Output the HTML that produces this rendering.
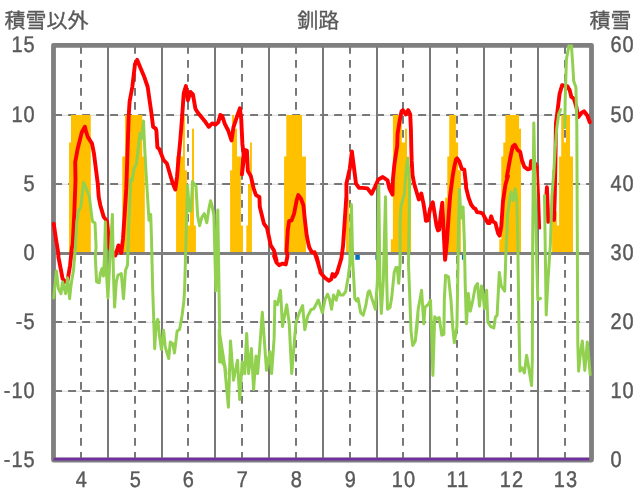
<!DOCTYPE html>
<html lang="ja"><head><meta charset="utf-8"><title>釧路</title>
<style>
html,body{margin:0;padding:0;background:#fff;}
body{width:636px;height:501px;overflow:hidden;position:relative;font-family:"Liberation Sans","Noto Sans CJK JP",sans-serif;}
svg{position:absolute;left:0;top:0;display:block;}
text{font-family:"Liberation Sans","Noto Sans CJK JP",sans-serif;font-size:21px;fill:#595959;stroke:#595959;stroke-width:0.35px;}
text.n{stroke-width:0.4px;letter-spacing:1px;text-rendering:geometricPrecision;}
</style></head><body>
<svg width="636" height="501" viewBox="0 0 636 501">
<rect x="0" y="0" width="636" height="501" fill="#fff"/>
<defs><clipPath id="pc"><rect x="50" y="44.6" width="545" height="420"/></clipPath></defs>
<g stroke-linecap="butt" fill="none">
<line x1="54" y1="115.3" x2="591" y2="115.3" stroke="#c0c0c0" stroke-width="0.6"/>
<line x1="54.15" y1="115" x2="591" y2="115" stroke="#787878" stroke-width="2" stroke-dasharray="7.9 6.1"/>
<line x1="54" y1="184.3" x2="591" y2="184.3" stroke="#c0c0c0" stroke-width="0.6"/>
<line x1="54.15" y1="184" x2="591" y2="184" stroke="#787878" stroke-width="2" stroke-dasharray="7.9 6.1"/>
<line x1="54" y1="322.3" x2="591" y2="322.3" stroke="#c0c0c0" stroke-width="0.6"/>
<line x1="54.15" y1="322" x2="591" y2="322" stroke="#787878" stroke-width="2" stroke-dasharray="7.9 6.1"/>
<line x1="54" y1="391.3" x2="591" y2="391.3" stroke="#c0c0c0" stroke-width="0.6"/>
<line x1="54.15" y1="391" x2="591" y2="391" stroke="#787878" stroke-width="2" stroke-dasharray="7.9 6.1"/>
<line x1="81" y1="45.9" x2="81" y2="460" stroke="#787878" stroke-width="2" stroke-dasharray="7.8 6.2"/>
<line x1="135" y1="45.9" x2="135" y2="460" stroke="#787878" stroke-width="2" stroke-dasharray="7.8 6.2"/>
<line x1="188" y1="45.9" x2="188" y2="460" stroke="#787878" stroke-width="2" stroke-dasharray="7.8 6.2"/>
<line x1="242" y1="45.9" x2="242" y2="460" stroke="#787878" stroke-width="2" stroke-dasharray="7.8 6.2"/>
<line x1="296" y1="45.9" x2="296" y2="460" stroke="#787878" stroke-width="2" stroke-dasharray="7.8 6.2"/>
<line x1="350" y1="45.9" x2="350" y2="460" stroke="#787878" stroke-width="2" stroke-dasharray="7.8 6.2"/>
<line x1="403" y1="45.9" x2="403" y2="460" stroke="#787878" stroke-width="2" stroke-dasharray="7.8 6.2"/>
<line x1="457" y1="45.9" x2="457" y2="460" stroke="#787878" stroke-width="2" stroke-dasharray="7.8 6.2"/>
<line x1="511" y1="45.9" x2="511" y2="460" stroke="#787878" stroke-width="2" stroke-dasharray="7.8 6.2"/>
<line x1="565" y1="45.9" x2="565" y2="460" stroke="#787878" stroke-width="2" stroke-dasharray="7.8 6.2"/>
<line x1="108" y1="45" x2="108" y2="460" stroke="#787878" stroke-width="2"/>
<line x1="162" y1="45" x2="162" y2="460" stroke="#787878" stroke-width="2"/>
<line x1="215" y1="45" x2="215" y2="460" stroke="#787878" stroke-width="2"/>
<line x1="269" y1="45" x2="269" y2="460" stroke="#787878" stroke-width="2"/>
<line x1="323" y1="45" x2="323" y2="460" stroke="#787878" stroke-width="2"/>
<line x1="377" y1="45" x2="377" y2="460" stroke="#787878" stroke-width="2"/>
<line x1="430" y1="45" x2="430" y2="460" stroke="#787878" stroke-width="2"/>
<line x1="484" y1="45" x2="484" y2="460" stroke="#787878" stroke-width="2"/>
<line x1="538" y1="45" x2="538" y2="460" stroke="#787878" stroke-width="2"/>
</g>
<path d="M69.00,253L69.00,142.60L71.00,142.60L71.00,115.00L90.80,115.00L90.80,253ZM122.30,253L122.30,156.40L125.00,156.40L125.00,115.00L142.30,115.00L142.30,156.40L144.80,156.40L144.80,253ZM176.10,253L176.10,156.40L183.00,156.40L183.00,115.00L184.90,115.00L184.90,170.20L186.90,170.20L186.90,225.40L188.70,225.40L188.70,225.40L190.00,225.40L190.00,211.60L192.00,211.60L192.00,128.80L194.00,128.80L194.00,225.40L195.90,225.40L195.90,253ZM230.10,253L230.10,170.20L232.10,170.20L232.10,115.00L234.00,115.00L234.00,128.80L237.05,128.80L237.05,156.40L240.90,156.40L240.90,225.40L243.00,225.40L243.00,253ZM246.30,253L246.30,225.40L248.00,225.40L248.00,184.00L250.00,184.00L250.00,142.60L251.90,142.60L251.90,253ZM284.10,253L284.10,156.40L286.30,156.40L286.30,115.00L302.00,115.00L302.00,156.40L305.90,156.40L305.90,253ZM346.10,253L346.10,197.80L348.90,197.80L348.90,253ZM390.90,253L390.90,239.20L392.90,239.20L392.90,115.00L401.80,115.00L401.80,142.60L405.00,142.60L405.00,128.80L407.00,128.80L407.00,156.40L409.20,156.40L409.20,170.20L411.10,170.20L411.10,253ZM445.10,253L445.10,197.80L447.30,197.80L447.30,156.40L449.20,156.40L449.20,115.00L455.90,115.00L455.90,142.60L458.10,142.60L458.10,170.20L460.90,170.20L460.90,253ZM499.30,253L499.30,239.20L501.30,239.20L501.30,156.40L503.30,156.40L503.30,142.60L505.40,142.60L505.40,115.00L519.10,115.00L519.10,128.80L521.00,128.80L521.00,253ZM552.10,253L552.10,170.20L553.30,170.20L553.30,211.60L556.90,211.60L556.90,225.40L559.10,225.40L559.10,156.40L561.20,156.40L561.20,115.00L563.90,115.00L563.90,142.60L566.00,142.60L566.00,115.00L570.00,115.00L570.00,156.40L573.00,156.40L573.00,253Z" fill="#ffc000"/>
<rect x="461.90" y="252.75" width="1.40" height="7.05" fill="#0070c0"/>
<rect x="355.30" y="252.75" width="4.50" height="7.05" fill="#0070c0"/>
<rect x="375.40" y="252.75" width="1.40" height="7.05" fill="#0070c0"/>
<line x1="53.75" y1="253.5" x2="591.5" y2="253.5" stroke="#7f7f7f" stroke-width="3"/>
<rect x="53.5" y="45.35" width="538" height="414.65" fill="none" stroke="#7f7f7f" stroke-width="4.8" stroke-linejoin="round"/>
<line x1="53.55" y1="459.15" x2="589.3" y2="459.15" stroke="#7030a0" stroke-width="2.9"/>
<polyline points="53.7,223.6 55.9,238.7 58.4,253.8 58.4,256.8 62.6,278.6 65.1,281.9 67.6,280.3 70.1,265.2 71.8,248.4 72.7,243.8 74.3,213.6 75.5,180.0 75.2,162.1 77.7,148.7 81.9,131.9 84.9,126.8 86.1,131.9 87.8,136.9 92.0,143.6 94.0,153.7 96.1,170.5 97.8,183.9 98.7,196.8 100.3,205.2 103.7,216.9 107.0,221.1 107.9,230.3 108.7,247.1 115.4,255.5 118.5,245.4 121.3,253.0 123.0,238.7 124.7,213.6 126.3,188.4 128.7,116.0 129.6,101.5 132.3,87.0 135.0,64.0 137.2,59.9 140.4,67.7 144.0,76.2 147.7,87.0 149.5,99.7 151.3,112.3 153.1,126.8 155.8,128.6 156.4,131.0 157.4,147.3 159.4,149.2 163.6,160.1 166.9,163.5 170.3,175.2 172.8,183.6 175.3,189.5 177.0,176.9 178.7,156.8 180.3,140.0 182.0,118.7 183.7,93.6 185.9,86.0 187.9,100.3 190.4,91.9 192.9,94.4 195.4,108.7 197.9,112.8 205.5,122.1 208.8,126.8 212.2,123.4 215.6,124.6 218.4,122.1 220.3,115.0 222.3,116.2 224.8,123.8 228.2,130.5 231.5,140.5 233.5,127.1 237.4,115.4 239.9,108.3 241.2,118.7 242.4,143.9 243.6,153.9 241.9,174.4 245.0,150.0 246.9,150.6 247.9,171.1 250.8,175.9 253.6,188.3 256.0,195.1 259.4,197.0 259.8,206.8 263.9,223.6 267.0,227.8 269.0,237.1 270.7,245.4 274.0,250.5 276.5,260.5 274.1,256.0 276.6,262.7 279.1,265.2 282.5,263.6 285.8,264.4 287.5,256.0 286.6,250.5 287.8,230.3 289.1,221.1 291.6,220.3 294.1,213.6 296.7,200.1 298.3,195.1 300.9,198.5 303.4,205.2 305.1,221.9 306.7,235.4 308.4,243.8 309.2,247.1 311.8,252.2 314.3,253.0 316.8,257.2 318.5,263.9 314.5,252.2 317.0,259.8 320.4,271.5 320.4,272.4 324.6,277.4 328.8,280.8 331.3,279.1 332.5,274.1 334.6,276.6 337.2,272.4 339.7,264.0 341.4,258.1 343.0,246.3 344.7,221.2 346.4,196.0 346.4,183.7 349.8,168.6 351.9,151.5 353.9,166.9 356.0,183.7 359.0,187.9 362.3,187.9 367.4,188.4 371.6,193.8 374.9,187.1 378.3,179.5 382.8,177.0 387.5,180.3 389.5,188.7 392.5,194.6 392.9,179.6 394.3,165.2 395.7,155.6 397.2,146.0 397.6,133.6 399.6,121.1 401.5,111.5 402.9,110.1 405.8,114.4 408.2,110.1 410.2,114.4 410.9,128.8 411.3,147.9 411.7,160.4 412.5,174.8 414.1,183.5 416.0,190.0 418.8,199.5 421.3,193.5 423.5,203.6 425.0,213.2 425.9,220.8 427.9,220.4 430.2,208.4 432.8,202.2 434.6,213.2 436.5,225.6 438.0,230.4 439.2,229.7 440.9,212.9 442.3,202.8 443.4,226.3 445.1,259.9 446.8,243.1 448.5,217.9 450.1,196.1 452.7,176.0 454.2,167.1 455.9,159.6 457.1,158.4 459.2,161.2 461.8,168.8 464.3,169.6 465.9,183.9 466.1,187.7 468.6,197.8 471.1,204.5 473.6,207.9 475.3,208.7 477.0,212.1 480.3,212.6 482.9,213.8 485.4,218.8 487.9,223.0 489.6,223.0 491.2,216.3 492.9,221.3 495.4,223.0 498.0,233.1 499.6,235.6 501.3,226.3 503.0,201.2 505.5,184.4 508.0,176.0 506.8,177.0 510.1,158.5 512.6,146.8 514.8,144.8 517.7,150.1 520.2,151.8 521.9,160.2 524.4,166.9 527.8,169.4 530.3,168.6 531.1,161.0 533.0,162.5 535.5,164.0" fill="none" stroke="#ff0000" stroke-width="3.9" stroke-linejoin="round" stroke-linecap="round"/>
<polyline points="545.9,205.0 546.9,187.3 547.6,205.0 548.2,221.9" fill="none" stroke="#ff0000" stroke-width="3.9" stroke-linejoin="round" stroke-linecap="round"/>
<polyline points="554.0,220.0 554.8,196.0 555.6,150.0 555.9,123.9 558.0,107.1 559.6,93.7 562.1,85.3 567.2,86.1 569.7,90.3 571.4,97.0 573.9,98.7 576.4,107.1 578.1,117.2 581.4,113.0 584.0,111.3 587.3,115.5 589.8,122.2" fill="none" stroke="#ff0000" stroke-width="3.9" stroke-linejoin="round" stroke-linecap="round"/>
<polyline points="537.2,166.0 538.7,196.0 539.8,228.2" fill="none" stroke="#ff0000" stroke-width="2.6" stroke-linejoin="round" stroke-linecap="round"/>
<polyline points="53.7,297.9 56.4,271.0 58.4,288.7 60.9,293.7 62.6,281.9 64.3,288.7 65.6,293.7 67.6,277.8 69.6,298.7 71.0,285.3 73.5,270.2 75.2,250.1 76.8,221.9 78.5,210.2 80.7,207.7 83.6,182.5 86.1,188.4 89.4,196.8 92.0,218.6 92.8,221.9 95.0,222.8 96.1,247.1 95.3,256.8 96.6,281.9 99.2,282.8 100.3,273.6 102.0,268.5 103.4,276.1 104.5,256.8 105.4,221.9 106.5,273.6 107.9,297.9 109.6,265.2 112.4,214.4 113.4,273.6 114.6,307.1 116.3,281.9 118.0,275.2 121.3,273.6 123.5,298.7 125.5,270.2 127.5,265.2 128.9,221.9 130.5,185.0 130.5,178.9 132.2,180.5 133.9,168.8 136.4,163.8 138.1,150.3 139.8,133.6 141.4,138.6 143.5,121.0 144.8,150.3 146.5,180.0 149.0,220.3 150.7,214.4 151.5,238.7 152.7,290.0 153.6,315.2 154.7,348.7 156.1,323.6 157.8,319.4 159.4,335.3 161.4,349.6 163.6,330.3 165.3,347.1 168.7,358.5 170.3,342.0 172.8,343.7 174.5,352.9 177.1,331.1 179.6,329.4 182.1,315.2 183.8,301.7 184.6,290.0 187.5,185.5 189.5,211.0 191.0,211.0 192.5,181.6 196.0,186.4 197.6,215.2 199.6,225.7 201.9,217.1 204.3,213.7 206.8,222.8 209.1,207.5 210.6,200.8 212.0,205.6 213.9,215.2 215.8,291.0 217.8,210.0 219.8,340.3 220.7,362.1 222.3,360.5 224.9,365.5 226.0,373.9 219.1,330.0 219.6,361.9 221.7,361.0 224.6,366.1 228.4,407.2 230.5,340.9 233.5,380.3 237.5,360.2 239.7,399.6 242.2,361.9 244.7,373.6 246.7,333.4 248.6,373.6 251.4,348.5 253.6,389.6 256.0,356.0 257.6,373.6 259.8,346.8 262.3,312.2 266.5,370.3 269.9,351.8 271.6,373.6 274.1,338.4 274.9,301.3 277.4,304.7 280.5,290.4 282.5,326.5 286.7,304.7 289.2,323.1 291.7,373.6 295.9,323.1 299.2,313.1 302.6,305.5 304.8,329.8 307.6,316.4 311.0,309.7 313.5,308.9 316.0,304.7 318.0,300.5 314.5,307.6 318.4,300.1 322.4,312.7 325.1,299.2 327.6,294.2 329.6,299.2 331.6,309.3 333.5,295.0 336.3,300.1 338.5,290.9 340.5,295.0 343.0,295.0 345.6,291.7 348.1,277.4 349.8,264.0 351.4,204.4 352.8,264.0 353.9,280.8 354.8,298.4 356.5,300.9 358.1,298.4 360.7,312.7 363.2,315.2 365.7,305.9 368.2,291.7 369.6,290.9 371.6,297.6 375.4,309.3 377.4,280.8 378.8,185.4 379.9,280.8 381.3,313.5 383.3,280.8 385.5,196.8 386.7,280.8 387.5,309.3 390.0,307.6 391.7,297.6 394.2,272.4 395.9,267.4 397.2,267.4 398.7,283.3 400.1,264.0 400.1,222.8 401.0,206.5 402.9,198.8 404.4,194.0 405.3,179.6 406.8,165.2 407.7,158.5 408.7,170.0 409.6,184.3 408.5,264.0 409.8,297.6 411.0,331.1 412.7,345.4 415.2,341.2 416.9,327.8 418.0,314.3 415.7,333.9 418.3,308.7 421.6,290.3 423.8,323.8 425.0,307.1 428.3,304.5 430.5,300.3 431.7,333.9 432.9,375.4 434.7,316.7 436.7,319.2 439.2,317.6 441.8,335.2 443.9,334.3 444.3,300.3 445.6,275.2 448.5,276.9 451.0,300.3 452.7,326.8 454.3,342.7 456.9,326.8 457.7,283.6 458.5,226.3 459.4,189.4 461.1,217.9 463.1,207.0 464.4,243.1 465.2,283.6 466.4,323.8 468.3,293.6 470.3,311.2 472.8,300.3 475.3,286.9 477.5,283.6 479.5,306.2 481.5,286.1 482.9,293.6 484.5,308.7 486.6,290.3 487.9,322.1 490.4,326.3 493.8,328.0 495.4,317.1 497.1,315.4 499.3,272.6 501.3,286.1 504.7,291.1 505.9,252.8 506.8,236.0 507.6,213.9 511.0,192.1 513.0,200.5 515.2,188.7 516.8,200.5 517.7,236.0 518.9,320.0 519.9,371.2 521.9,367.9 524.4,372.9 526.6,355.3 528.9,368.7 531.6,385.5 532.3,360.3 532.7,236.0 533.8,123.0 536.3,244.0 537.8,299.8 540.5,298.4" fill="none" stroke="#92d050" stroke-width="3" stroke-linejoin="round" stroke-linecap="round" clip-path="url(#pc)"/>
<polyline points="544.5,195.4 546.2,314.9 548.0,280.0 550.4,244.0 551.9,196.0 553.8,172.0 555.2,148.0 556.7,128.8 558.6,114.4 560.5,109.6" fill="none" stroke="#92d050" stroke-width="3" stroke-linejoin="round" stroke-linecap="round" clip-path="url(#pc)"/>
<polyline points="564.8,127.8 565.2,100.0 566.4,59.5 569.9,40.5 571.1,40.5 572.8,65.6 573.7,81.0 575.9,87.3 576.3,104.0 576.8,124.0 577.3,236.0 577.8,343.6 578.6,371.2 580.6,351.9 582.3,341.0 584.8,370.4 587.3,341.9 589.0,360.3 590.2,374.6" fill="none" stroke="#92d050" stroke-width="3" stroke-linejoin="round" stroke-linecap="round" clip-path="url(#pc)"/>
<g class="t">
<text transform="translate(4.5,28) scale(1,0.96)">積雪以外</text>
<text transform="translate(318.3,28) scale(1,0.96)" text-anchor="middle">釧路</text>
<text transform="translate(589.4,28) scale(1,0.96)">積雪</text>
<text transform="translate(35.5,52.3) scale(0.95,1.08)" text-anchor="end" class="n">15</text>
<text transform="translate(35.5,121.8) scale(0.95,1.08)" text-anchor="end" class="n">10</text>
<text transform="translate(35.5,190.8) scale(0.95,1.08)" text-anchor="end" class="n">5</text>
<text transform="translate(35.5,259.8) scale(0.95,1.08)" text-anchor="end" class="n">0</text>
<text transform="translate(35.5,328.8) scale(0.95,1.08)" text-anchor="end" class="n">-5</text>
<text transform="translate(35.5,397.8) scale(0.95,1.08)" text-anchor="end" class="n">-10</text>
<text transform="translate(35.5,466.8) scale(0.95,1.08)" text-anchor="end" class="n">-15</text>
<text transform="translate(610.4,52.3) scale(0.95,1.08)" text-anchor="start" class="n">60</text>
<text transform="translate(610.4,121.8) scale(0.95,1.08)" text-anchor="start" class="n">50</text>
<text transform="translate(610.4,190.8) scale(0.95,1.08)" text-anchor="start" class="n">40</text>
<text transform="translate(610.4,259.8) scale(0.95,1.08)" text-anchor="start" class="n">30</text>
<text transform="translate(610.4,328.8) scale(0.95,1.08)" text-anchor="start" class="n">20</text>
<text transform="translate(610.4,397.8) scale(0.95,1.08)" text-anchor="start" class="n">10</text>
<text transform="translate(610.4,466.8) scale(0.95,1.08)" text-anchor="start" class="n">0</text>
<text transform="translate(81.9,487.4) scale(0.95,1.08)" text-anchor="middle" class="n">4</text>
<text transform="translate(135.9,487.4) scale(0.95,1.08)" text-anchor="middle" class="n">5</text>
<text transform="translate(188.9,487.4) scale(0.95,1.08)" text-anchor="middle" class="n">6</text>
<text transform="translate(242.9,487.4) scale(0.95,1.08)" text-anchor="middle" class="n">7</text>
<text transform="translate(296.9,487.4) scale(0.95,1.08)" text-anchor="middle" class="n">8</text>
<text transform="translate(350.9,487.4) scale(0.95,1.08)" text-anchor="middle" class="n">9</text>
<text transform="translate(403.9,487.4) scale(0.95,1.08)" text-anchor="middle" class="n">10</text>
<text transform="translate(457.9,487.4) scale(0.95,1.08)" text-anchor="middle" class="n">11</text>
<text transform="translate(511.9,487.4) scale(0.95,1.08)" text-anchor="middle" class="n">12</text>
<text transform="translate(565.9,487.4) scale(0.95,1.08)" text-anchor="middle" class="n">13</text>
</g>
</svg></body></html>
